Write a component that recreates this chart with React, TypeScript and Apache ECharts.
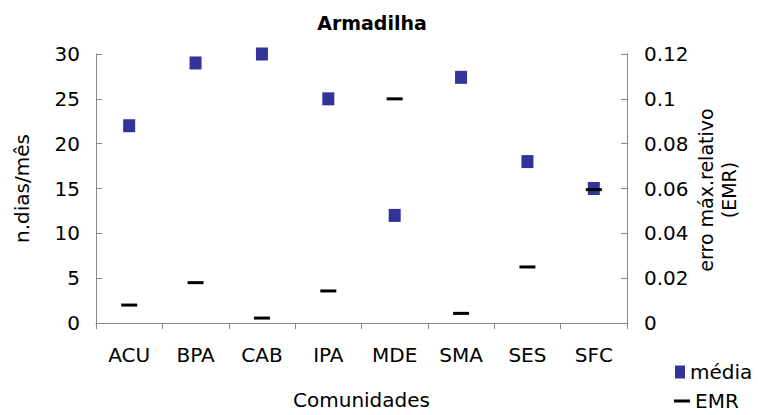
import React, { useEffect, useRef } from "react";
import * as echarts from "echarts";

const categories = ["ACU", "BPA", "CAB", "IPA", "MDE", "SMA", "SES", "SFC"];
const mediaValues = [22, 29, 30, 25, 12, 27.4, 18, 15];
const emrValues = [0.008, 0.018, 0.0022, 0.0143, 0.1, 0.0043, 0.025, 0.0595];
const leftTicks = { min: 0, max: 30, interval: 5 };
const rightTicks = { min: 0, max: 0.12, interval: 0.02 };

const FONT = "'DejaVu Sans', sans-serif";

export default function App() {
  const ref = useRef<HTMLDivElement>(null);
  useEffect(() => {
    if (!ref.current) return;
    const chart = echarts.init(ref.current, null, { renderer: "svg" });
    const axisLine = { show: true, lineStyle: { color: "#868686", width: 1 } };
    const legendText = { fontFamily: FONT, fontSize: 20, color: "#000" };
    chart.setOption({
      animation: false,
      backgroundColor: "#ffffff",
      title: {
        text: "Armadilha",
        left: 372,
        textAlign: "center",
        top: 13,
        padding: 0,
        textStyle: { fontFamily: FONT, fontSize: 19, fontWeight: "bold", color: "#000" },
      },
      grid: { left: 96, right: 131, top: 54, bottom: 88 },
      legend: [
        {
          orient: "vertical",
          left: 675,
          top: 362,
          padding: 0,
          itemWidth: 10,
          itemHeight: 13,
          textStyle: legendText,
          data: [{ name: "média", icon: "rect" }],
        },
        {
          orient: "vertical",
          left: 674,
          top: 391,
          padding: 0,
          itemWidth: 16,
          itemHeight: 13,
          textStyle: legendText,
          data: [{ name: "EMR", icon: "path://M0,0 L16,0 L16,3 L0,3 Z" }],
        },
      ],
      xAxis: {
        type: "category",
        data: categories,
        boundaryGap: true,
        axisLine,
        axisTick: { show: true, inside: false, length: 6, lineStyle: { color: "#868686" } },
        axisLabel: { fontFamily: FONT, fontSize: 20, color: "#000", margin: 22 },
        splitLine: { show: false },
        name: "Comunidades",
        nameLocation: "middle",
        nameGap: 67,
        nameTextStyle: { fontFamily: FONT, fontSize: 20, color: "#000" },
      },
      yAxis: [
        {
          type: "value",
          ...leftTicks,
          axisLine,
          axisTick: { show: true, inside: true, length: 6, lineStyle: { color: "#868686" } },
          axisLabel: { fontFamily: FONT, fontSize: 20, color: "#000", margin: 16 },
          splitLine: { show: false },
          name: "n.dias/mês",
          nameLocation: "middle",
          nameRotate: 90,
          nameGap: 64,
          nameTextStyle: { fontFamily: FONT, fontSize: 20, color: "#000" },
        },
        {
          type: "value",
          position: "right",
          ...rightTicks,
          axisLine,
          axisTick: { show: true, inside: true, length: 6, lineStyle: { color: "#868686" } },
          axisLabel: {
            fontFamily: FONT,
            fontSize: 20,
            color: "#000",
            margin: 17,
            formatter: (v: number) => (v === 0 ? "0" : String(parseFloat(v.toFixed(2)))),
          },
          splitLine: { show: false },
        },
      ],
      graphic: [
        {
          type: "text",
          x: 717,
          y: 190,
          rotation: Math.PI / 2,
          style: {
            text: "erro máx.relativo\n(EMR)",
            fontFamily: FONT,
            fontSize: 19,
            fill: "#000",
            align: "center",
            verticalAlign: "middle",
            lineHeight: 23,
          },
        },
      ],
      series: [
        {
          name: "média",
          type: "scatter",
          yAxisIndex: 0,
          data: mediaValues,
          symbol: "rect",
          symbolSize: [12, 13],
          itemStyle: { color: "#333399", opacity: 1 },
          z: 2,
        },
        {
          name: "EMR",
          type: "scatter",
          yAxisIndex: 1,
          data: emrValues,
          symbol: "rect",
          symbolSize: [16, 3],
          itemStyle: { color: "#000000", opacity: 1 },
          z: 3,
        },
      ],
    });
    return () => chart.dispose();
  }, []);
  return <div ref={ref} style={{ width: 758, height: 415, position: "fixed", left: 0, top: 0 }} />;
}
